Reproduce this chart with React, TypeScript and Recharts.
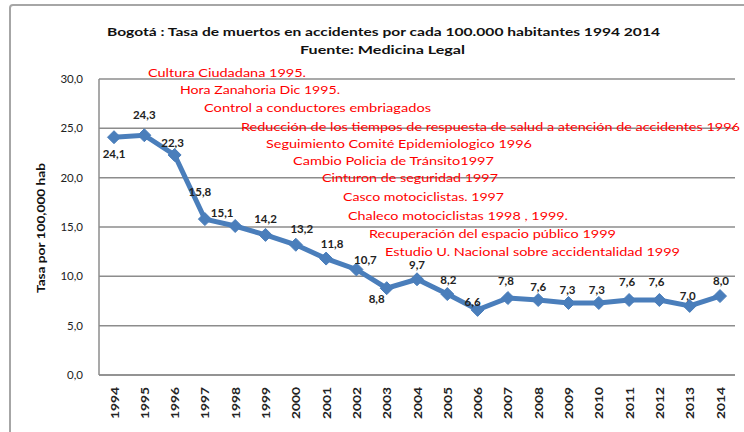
import React from 'react';
import { LineChart, Line, XAxis, YAxis, CartesianGrid } from 'recharts';

const years = ['1994','1995','1996','1997','1998','1999','2000','2001','2002','2003','2004','2005','2006','2007','2008','2009','2010','2011','2012','2013','2014'];
const rates = [24.1,24.3,22.3,15.8,15.1,14.2,13.2,11.8,10.7,8.8,9.7,8.2,6.6,7.8,7.6,7.3,7.3,7.6,7.6,7.0,8.0];
const yTicks = [0,5,10,15,20,25,30];

const titleText = 'Bogotá : Tasa de muertos en accidentes por cada 100.000 habitantes 1994 2014';
const subtitleText = 'Fuente: Medicina Legal';
const yAxisTitle = 'Tasa por 100,000 hab';

const annotations = [
  'Cultura Ciudadana 1995.',
  'Hora Zanahoria Dic 1995.',
  'Control a conductores embriagados',
  'Reducción de los tiempos de respuesta de salud a atención de accidentes 1996',
  'Seguimiento Comité Epidemiologico 1996',
  'Cambio Policia de Tránsito1997',
  'Cinturon de seguridad 1997',
  'Casco motociclistas. 1997',
  'Chaleco motociclistas 1998 , 1999.',
  'Recuperación del espacio público 1999',
  'Estudio U. Nacional sobre accidentalidad 1999',
];
// layout of annotation texts: [x start, x end, y center]
const annotationLayout: [number, number, number][] = [
  [148, 306, 72], [180, 340, 89], [204, 431, 107], [241, 740, 126], [266, 532, 143],
  [293, 494, 160], [322, 498, 177], [343, 504, 196], [348, 568, 215], [369, 616, 233], [385, 680, 251],
];

// data-label offsets (dx, dy) relative to the point
const labelOffsets: Record<string, [number, number]> = {
  '1994': [0, 16], '1995': [0, -21], '1996': [-2, -12], '1997': [-5, -28], '1998': [-13, -14],
  '1999': [0, -16], '2000': [6, -16], '2001': [6, -15], '2002': [9, -10], '2003': [-10, 10],
  '2004': [0, -15], '2005': [1, -15], '2006': [-5, -8], '2007': [-2, -18], '2008': [0, -14],
  '2009': [-1, -13], '2010': [-2, -13], '2011': [-2, -19], '2012': [-3, -19], '2013': [-2, -10],
  '2014': [1, -16],
};

const fmt = (v: number) => v.toFixed(1).replace('.', ',');
const FONT = 'Lato, "Open Sans", sans-serif';
const GRID = '#8c8c8c';

const Marker = (props: any) => {
  const { cx, cy, payload } = props;
  if (cx == null || cy == null) return null;
  const s = 6.5;
  const off = labelOffsets[payload.year] || [0, -15];
  return (
    <g>
      <polygon
        points={`${cx},${cy - s} ${cx + s},${cy} ${cx},${cy + s} ${cx - s},${cy}`}
        fill="#4a7ebb"
        stroke="#4a7ebb"
        strokeWidth={1}
      />
      <text
        x={cx + off[0]}
        y={cy + off[1]}
        textAnchor="middle"
        dominantBaseline="central"
        fontSize={11.5}
        fontWeight="bold"
        fontFamily={FONT}
        fill="#222"
      >
        {fmt(payload.rate)}
      </text>
    </g>
  );
};

const YearTick = (props: any) => {
  const { x, y, payload } = props;
  return (
    <g transform={`translate(${x},${y})`}>
      <text
        transform="rotate(-90)"
        textAnchor="end"
        dominantBaseline="central"
        fontSize={12}
        fontWeight="bold"
        fontFamily={FONT}
        fill="#222"
        textLength={32}
        lengthAdjust="spacingAndGlyphs"
      >
        {payload.value}
      </text>
    </g>
  );
};

export default function App() {
  const data = years.map((y, i) => ({ year: y, rate: rates[i] }));
  return (
    <div style={{ position: 'absolute', left: 0, top: 0, width: 744, height: 432, background: '#fff', overflow: 'hidden' }}>
      <svg style={{ position: 'absolute', left: 0, top: 0 }} width={744} height={432}>
        <rect x={10} y={5} width={800} height={500} rx={3} fill="#fff" stroke="#a6a6a6" strokeWidth={2} />
      </svg>
      <div style={{ position: 'absolute', left: 0, top: 0 }}>
        <LineChart width={744} height={432} data={data} margin={{ top: 79, right: 9, bottom: 0, left: 0 }}>
          <CartesianGrid vertical={false} stroke={GRID} strokeWidth={1.5} />
          <XAxis
            dataKey="year"
            padding={{ left: 15, right: 15 }}
            height={57}
            interval={0}
            axisLine={{ stroke: GRID, strokeWidth: 1.5 }}
            tickLine={false}
            tickSize={0}
            tickMargin={12}
            tick={<YearTick />}
          />
          <YAxis
            domain={[0, 30]}
            ticks={yTicks}
            width={99}
            tickFormatter={fmt}
            tick={{ fontSize: 11.5, fill: '#222', fontFamily: FONT }}
            axisLine={{ stroke: GRID, strokeWidth: 1.5 }}
            tickLine={false}
            tickSize={6}
            tickMargin={10}
          />
          <Line
            dataKey="rate"
            stroke="#4a7ebb"
            strokeWidth={5}
            dot={<Marker />}
            activeDot={false}
            isAnimationActive={false}
          />
        </LineChart>
      </div>
      <svg style={{ position: 'absolute', left: 0, top: 0, pointerEvents: 'none' }} width={744} height={432}>
        <text x={107} y={31} dominantBaseline="central" fontSize={12} fontWeight="bold" fontFamily={FONT} fill="#111" textLength={553} lengthAdjust="spacingAndGlyphs">{titleText}</text>
        <text x={300} y={49} dominantBaseline="central" fontSize={12} fontWeight="bold" fontFamily={FONT} fill="#111" textLength={165} lengthAdjust="spacingAndGlyphs">{subtitleText}</text>
        <text transform="translate(40,228) rotate(-90)" textAnchor="middle" dominantBaseline="central" fontSize={11.5} fontWeight="bold" fontFamily={FONT} fill="#111" textLength={130} lengthAdjust="spacingAndGlyphs">{yAxisTitle}</text>
        {annotations.map((t, i) => {
          const [x0, x1, yc] = annotationLayout[i];
          return (
            <text key={i} x={x0} y={yc} dominantBaseline="central" fontSize={11.5} fontFamily={FONT} fill="#ff0000" textLength={x1 - x0} lengthAdjust="spacingAndGlyphs">{t}</text>
          );
        })}
      </svg>
    </div>
  );
}
